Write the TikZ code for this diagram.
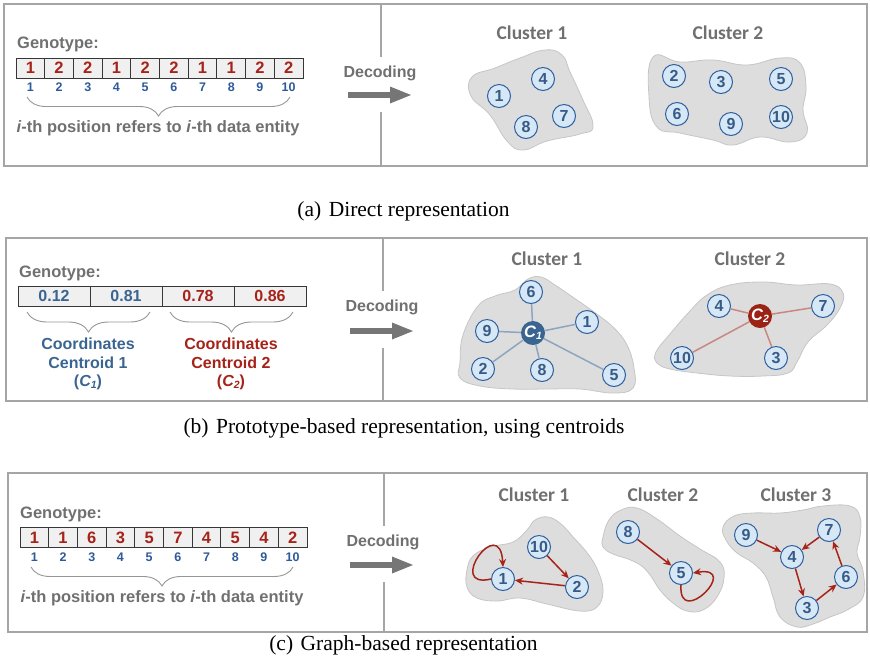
\documentclass[tikz,border=0pt]{standalone}
\usepackage{fontspec}
\setmainfont{Liberation Serif}
\newfontfamily\arialf{Liberation Sans}
\newfontfamily\calf{Carlito}
\usetikzlibrary{decorations.pathreplacing,arrows.meta}
\definecolor{txtgray}{RGB}{112,112,112}
\definecolor{panelgray}{RGB}{165,165,165}
\definecolor{genred}{RGB}{165,35,25}
\definecolor{idxblue}{RGB}{46,90,155}
\definecolor{valblue}{RGB}{59,101,145}
\definecolor{cellfill}{RGB}{240,240,240}
\definecolor{celldraw}{RGB}{55,55,55}
\definecolor{blobfill}{RGB}{221,221,221}
\definecolor{blobdraw}{RGB}{198,198,198}
\definecolor{entdraw}{RGB}{46,95,160}
\definecolor{entfill}{RGB}{214,232,246}
\definecolor{enttext}{RGB}{55,90,135}
\definecolor{cenblue}{RGB}{59,101,145}
\definecolor{cenred}{RGB}{155,35,22}
\definecolor{edgeblue}{RGB}{140,165,192}
\definecolor{edgered}{RGB}{200,135,128}
\definecolor{decgray}{RGB}{118,118,118}
\definecolor{bracegray}{RGB}{150,150,150}
\tikzset{
  panel/.style={draw=panelgray, line width=1.2pt},
  divider/.style={draw=panelgray, line width=1.2pt},
  caption/.style={font=\fontsize{21.5}{24}\selectfont, inner sep=0pt},
  genlabel/.style={anchor=west, inner sep=0pt, text=txtgray, font=\arialf\bfseries\fontsize{16.5}{18}\selectfont},
  cell/.style={draw=celldraw, fill=cellfill, line width=0.9pt, minimum height=20pt, inner sep=0pt, text=genred, font=\arialf\bfseries\fontsize{16.5}{18}\selectfont},
  idx/.style={inner sep=0pt, text=idxblue, font=\arialf\bfseries\fontsize{12.5}{14}\selectfont},
  bracetext/.style={inner sep=0pt, text=txtgray, font=\arialf\bfseries\fontsize{16.5}{18}\selectfont},
  gbrace/.style={draw=bracegray, line width=0.9pt, decorate, decoration={brace, mirror, amplitude=19pt}},
  dectext/.style={inner sep=0pt, text=txtgray, font=\arialf\bfseries\fontsize{16}{18}\selectfont},
  decarrow/.style={fill=decgray},
  clabel/.style={inner sep=0pt, text=txtgray, font=\calf\bfseries\fontsize{19.5}{22}\selectfont},
  blob/.style={fill=blobfill, draw=blobdraw, line width=0.8pt},
  ent/.style={circle, draw=entdraw, fill=entfill, line width=1pt, minimum size=23pt, inner sep=0pt, text=enttext, font=\arialf\bfseries\fontsize{16}{16}\selectfont},
  cen/.style={circle, minimum size=24pt, inner sep=0pt, text=white, font=\arialf\bfseries\itshape\fontsize{16.5}{16}\selectfont},
  bedge/.style={draw=edgeblue, line width=1.5pt},
  redge/.style={draw=edgered, line width=1.5pt},
  garrow/.style={draw=genred, line width=1.5pt, -{Stealth[length=8pt,width=7pt]}},
  ctext/.style={inner sep=0pt, align=center, font=\arialf\bfseries\fontsize{16}{18.5}\selectfont}
}
\newcommand{\subone}[1]{\raisebox{-0.25ex}{\fontsize{10.5}{10}\selectfont #1}}
\begin{document}
\begin{tikzpicture}[x=1pt,y=-1pt]
\useasboundingbox (0,0) rectangle (870,657);

% ---------------- panels ----------------
\draw[panel] (4,4) rectangle (867,166);
\draw[panel] (6,238) rectangle (867,401);
\draw[panel] (8,473) rectangle (867,632);
\draw[divider] (381,4) -- (381,57);
\draw[divider] (381,112) -- (381,166);
\draw[divider] (383,238) -- (383,291);
\draw[divider] (383,348) -- (383,401);
\draw[divider] (384,473) -- (384,526);
\draw[divider] (384,582) -- (384,632);

% ---------------- captions ----------------
\node[caption] (capa) at (403.5,211) {(a)\hspace{0.35em}Direct representation};
\node[caption] (capb) at (404,428) {(b)\hspace{0.35em}Prototype-based representation, using centroids};
\node[caption] (capc) at (403.5,645) {(c)\hspace{0.35em}Graph-based representation};

% ---------------- decoding ----------------
\node[dectext] (deca) at (380,73) {Decoding};
\node[dectext] (decb) at (382,307) {Decoding};
\node[dectext] (decc) at (383,542) {Decoding};
\foreach \dx/\dy in {348/95, 350/331, 350/565}{
  \fill[decarrow] (\dx,\dy-2.8) -- (\dx+42,\dy-2.8) -- (\dx+42,\dy-8.5) -- (\dx+63,\dy) -- (\dx+42,\dy+8.5) -- (\dx+42,\dy+2.8) -- (\dx,\dy+2.8) -- cycle;
}

% ================= panel (a) =================
\node[genlabel] (gena) at (17,44) {Genotype:};
\foreach \v [count=\i] in {1,2,2,1,2,2,1,1,2,2}{
  \node[cell, minimum width=28.7pt] (ca\i) at ({16+28.7*(\i-0.5)},68) {\v};
  \node[idx] (ia\i) at ({16+28.7*(\i-0.5)},87) {\i};
}
\draw[gbrace] (27,97) -- (290,97);
\node[bracetext] (bta) at (158,128) {\textit{i}-th position refers to \textit{i}-th data entity};

\node[clabel] (cla1) at (532,33) {Cluster 1};
\node[clabel] (cla2) at (728,33) {Cluster 2};
\filldraw[blob] plot[smooth cycle, tension=0.75] coordinates {(472,77) (495,68) (520,58) (545,50) (562,55) (570,72) (582,98) (593,126) (580,134) (547,141) (523,150) (507,141) (490,115) (471,96)};
\filldraw[blob] plot[smooth cycle, tension=0.75] coordinates {(653,57) (680,62) (713,60) (747,65) (780,58) (800,63) (806,87) (803,110) (807,133) (790,142) (760,137) (733,145) (713,140) (680,133) (657,127) (649,97)};
\node[ent] (a1) at (499,96) {1};
\node[ent] (a4) at (543,79) {4};
\node[ent] (a8) at (526,127) {8};
\node[ent] (a7) at (564,116) {7};
\node[ent] (a2) at (674,76) {2};
\node[ent] (a3) at (721,82) {3};
\node[ent] (a5) at (781,79) {5};
\node[ent] (a6) at (677,114) {6};
\node[ent] (a9) at (731,124) {9};
\node[ent] (a10) at (781,117) {10};

% ================= panel (b) =================
\node[genlabel] (genb) at (19,273) {Genotype:};
\foreach \v/\c [count=\i] in {0.12/valblue,0.81/valblue,0.78/genred,0.86/genred}{
  \node[cell, minimum width=72pt, text=\c, font=\arialf\bfseries\fontsize{16}{18}\selectfont] (cb\i) at ({18+72*(\i-0.5)},296) {\v};
}
\draw[gbrace, decoration={brace, mirror, amplitude=20pt}] (27,312) -- (150,312);
\draw[gbrace, decoration={brace, mirror, amplitude=20pt}] (170,312) -- (293,312);
\node[ctext, text=valblue] (ctb1) at (88,364) {Coordinates\\Centroid 1\\(\textit{C\subone{1}})};
\node[ctext, text=genred] (ctb2) at (231,364) {Coordinates\\Centroid 2\\(\textit{C\subone{2}})};

\node[clabel] (clb1) at (547,259) {Cluster 1};
\node[clabel] (clb2) at (750,259) {Cluster 2};
\filldraw[blob] plot[smooth cycle, tension=0.7] coordinates {(460,362) (463,335) (478,306) (495,296) (515,290) (528,279) (541,277) (555,285) (574,298) (594,312) (614,328) (627,345) (634,368) (633,388) (613,393) (580,389) (547,389) (513,389) (480,386) (460,378)};
\filldraw[blob] plot[smooth cycle, tension=0.7] coordinates {(656,352) (670,334) (690,311) (707,295) (730,285) (763,282) (797,285) (830,284) (843,293) (840,308) (827,325) (808,342) (797,362) (788,373) (763,376) (730,376) (697,373) (670,369) (657,363)};
\node[cen, fill=cenblue] (bC1) at (533,333) {C\subone{1}};
\node[ent] (b6) at (531,292) {6};
\node[ent] (b9) at (487,331) {9};
\node[ent] (b1) at (587,322) {1};
\node[ent] (b2) at (483,369) {2};
\node[ent] (b8) at (542,370) {8};
\node[ent] (b5) at (614,375) {5};
\foreach \n in {b6,b9,b1,b2,b8,b5}{ \draw[bedge] (bC1) -- (\n); }
\node[cen, fill=cenred] (bC2) at (760,316) {C\subone{2}};
\node[ent] (b4) at (719,306) {4};
\node[ent] (b7) at (823,306) {7};
\node[ent] (b10) at (682,358) {10};
\node[ent] (b3) at (776,358) {3};
\foreach \n in {b4,b7,b10,b3}{ \draw[redge] (bC2) -- (\n); }

% ================= panel (c) =================
\node[genlabel] (genc) at (20,514) {Genotype:};
\foreach \v [count=\i] in {1,1,6,3,5,7,4,5,4,2}{
  \node[cell, minimum width=28.7pt] (cc\i) at ({20+28.7*(\i-0.5)},537.5) {\v};
  \node[idx] (ic\i) at ({20+28.7*(\i-0.5)},557) {\i};
}
\draw[gbrace] (31,567) -- (293,567);
\node[bracetext] (btc) at (162,598) {\textit{i}-th position refers to \textit{i}-th data entity};

\node[clabel] (clc1) at (534,495) {Cluster 1};
\node[clabel] (clc2) at (663,495) {Cluster 2};
\node[clabel] (clc3) at (796,495) {Cluster 3};
\filldraw[blob] plot[smooth cycle, tension=0.7] coordinates {(467,570) (473,556) (490,547) (513,542) (527,530) (535,520) (548,517) (561,524) (574,538) (588,554) (598,571) (603,591) (597,607) (580,611) (547,604) (520,598) (497,601) (477,598) (467,587)};
\filldraw[blob] plot[smooth cycle, tension=0.7] coordinates {(603,537) (609,520) (621,510) (637,508) (657,519) (680,536) (700,549) (720,562) (724,578) (717,597) (703,610) (687,611) (673,603) (660,590) (647,571) (633,561) (613,554) (603,547)};
\filldraw[blob] plot[smooth cycle, tension=0.7] coordinates {(723,527) (734,516) (753,513) (780,513) (803,510) (823,506) (850,506) (860,517) (860,537) (857,553) (863,571) (863,597) (847,610) (830,617) (813,624) (797,627) (780,617) (773,597) (766,577) (753,563) (737,553) (726,540)};
\node[ent] (c10) at (539,547) {10};
\node[ent] (c1) at (503,579) {1};
\node[ent] (c2) at (577,587) {2};
\node[ent] (c8) at (628,532) {8};
\node[ent] (c5) at (681,573) {5};
\node[ent] (c9) at (746,535) {9};
\node[ent] (c7) at (829,530) {7};
\node[ent] (c4) at (792,557) {4};
\node[ent] (c6) at (846,577) {6};
\node[ent] (c3) at (807,608) {3};
\draw[garrow] (c10) -- (c2);
\draw[garrow] (c2) -- (c1);
\draw[garrow] (c1.west) .. controls (445,590) and (500,512) .. (c1.north);
\draw[garrow] (c8) -- (c5);
\draw[garrow] (c5.south) .. controls (678,630) and (742,565) .. (c5.east);
\draw[garrow] (c9) -- (c4);
\draw[garrow] (c7) -- (c4);
\draw[garrow] (c4) -- (c3);
\draw[garrow] (c3) -- (c6);
\draw[garrow] (c6) -- (c7);
\end{tikzpicture}
\end{document}
